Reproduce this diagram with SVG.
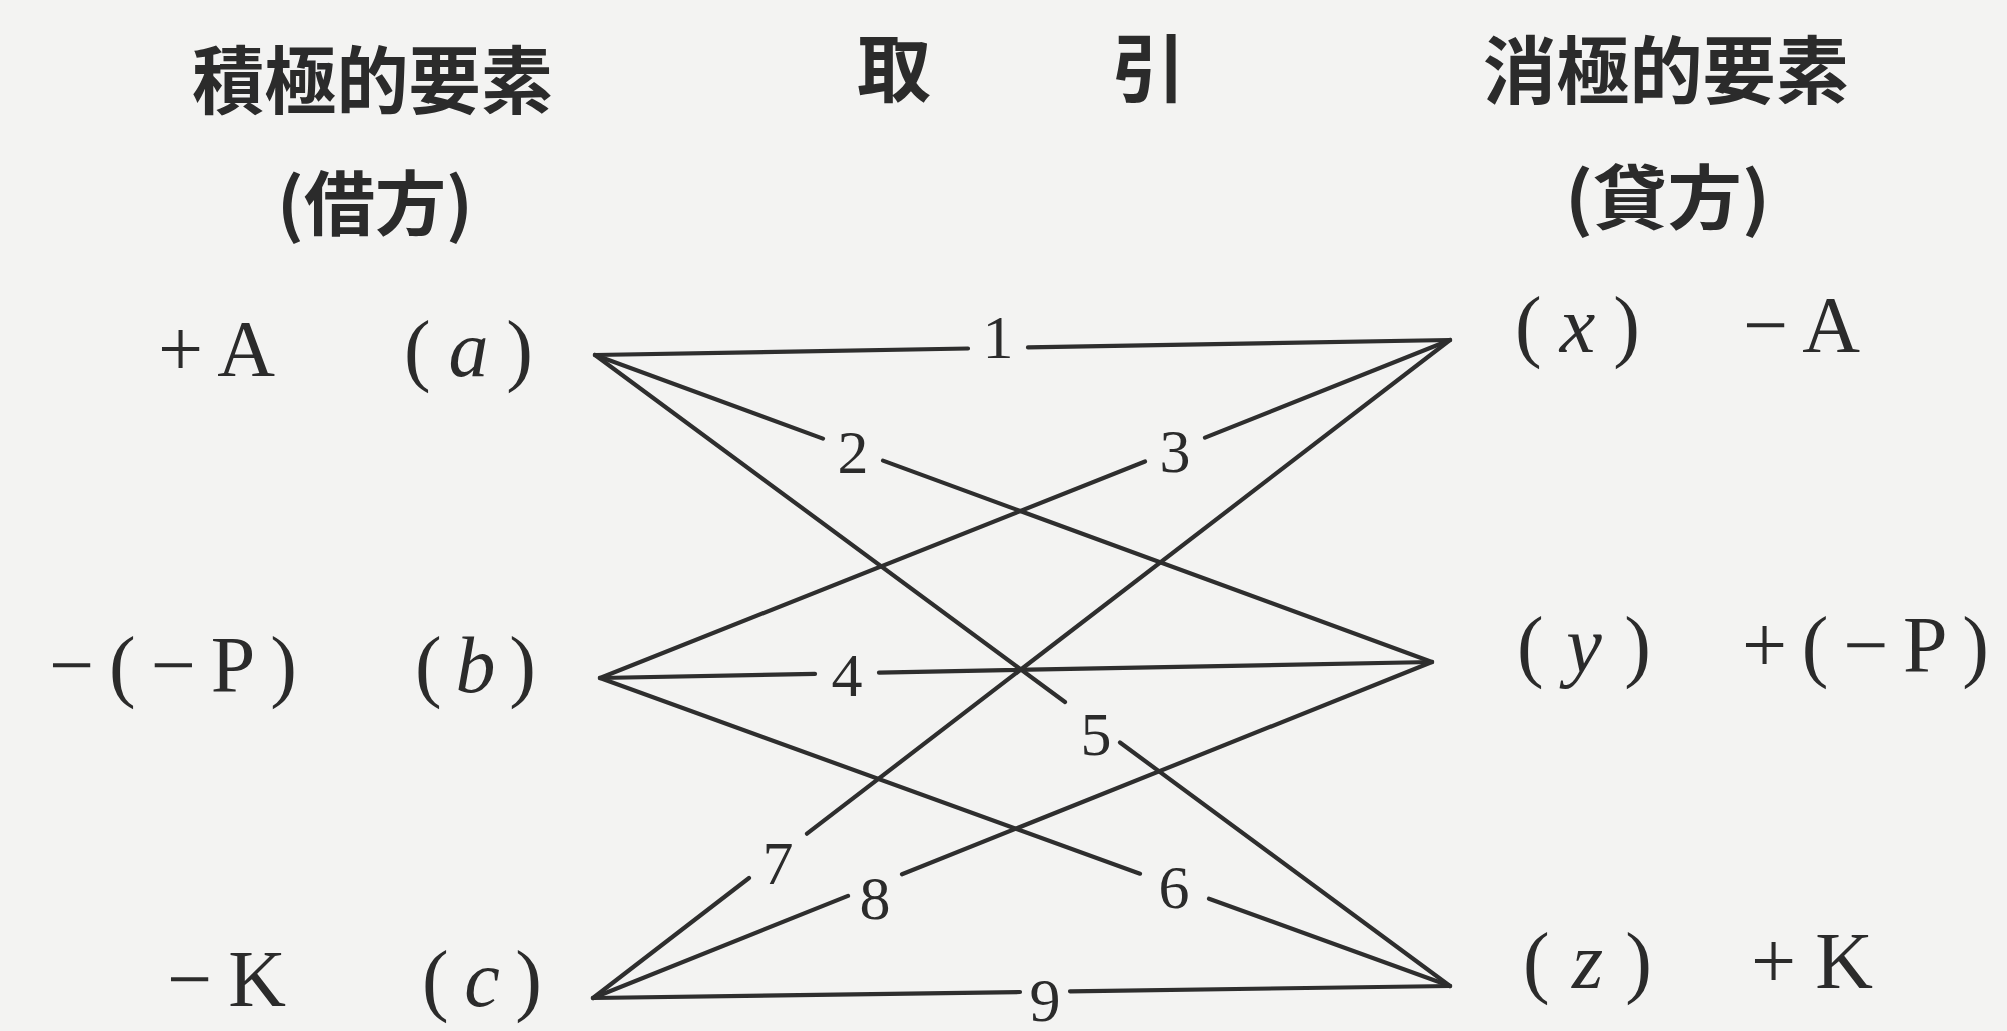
<svg xmlns="http://www.w3.org/2000/svg" width="2007" height="1031" viewBox="0 0 2007 1031">
<style>
.bg{fill:#f3f3f2}
.ttl{font-family:"Noto Sans CJK JP","Noto Sans CJK SC",sans-serif;font-weight:700;fill:#2b2b2b}
.row{font-family:"Liberation Serif",serif;font-size:80px;fill:#2b2b2b}
.var{font-family:"Liberation Serif",serif;font-size:80px;fill:#2b2b2b}
.var tspan.i{font-style:italic}
.num{font-family:"Liberation Serif",serif;font-size:62px;fill:#2b2b2b;text-anchor:middle}
.ln{stroke:#2e2e2e;stroke-width:4.2;stroke-linecap:round;fill:none}
</style>
<rect class="bg" x="0" y="0" width="2007" height="1031"/>

<g id="headers">
  <text id="h-left" class="ttl" x="192" y="108" font-size="74" textLength="361" lengthAdjust="spacingAndGlyphs">積極的要素</text>
  <text id="h-left-sub" class="ttl" x="277" y="230" font-size="70" textLength="196" lengthAdjust="spacingAndGlyphs">(借方)</text>
  <text id="h-mid" class="ttl" y="96" font-size="74"><tspan x="857">取</tspan><tspan x="1112">引</tspan></text>
  <text id="h-right" class="ttl" x="1483" y="98" font-size="74" textLength="366" lengthAdjust="spacingAndGlyphs">消極的要素</text>
  <text id="h-right-sub" class="ttl" x="1565" y="224" font-size="70" textLength="205" lengthAdjust="spacingAndGlyphs">(貸方)</text>
</g>

<g id="node-a">
  <text class="row" x="158" y="376" textLength="117" lengthAdjust="spacing">+A</text>
  <text class="var" x="404" y="376" textLength="129" lengthAdjust="spacing">(<tspan class="i">a</tspan>)</text>
</g>
<g id="node-b">
  <text class="row" x="49" y="692" textLength="248" lengthAdjust="spacing">−(−P)</text>
  <text class="var" x="415" y="692" textLength="121" lengthAdjust="spacing">(<tspan class="i">b</tspan>)</text>
</g>
<g id="node-c">
  <text class="row" x="167" y="1006" textLength="119" lengthAdjust="spacing">−K</text>
  <text class="var" x="422" y="1006" textLength="120" lengthAdjust="spacing">(<tspan class="i">c</tspan>)</text>
</g>
<g id="node-x">
  <text class="var" x="1515" y="352" textLength="125" lengthAdjust="spacing">(<tspan class="i">x</tspan>)</text>
  <text class="row" x="1743" y="352" textLength="117" lengthAdjust="spacing">−A</text>
</g>
<g id="node-y">
  <text class="var" x="1517" y="672" textLength="134" lengthAdjust="spacing">(<tspan class="i">y</tspan>)</text>
  <text class="row" x="1742" y="672" textLength="247" lengthAdjust="spacing">+(−P)</text>
</g>
<g id="node-z">
  <text class="var" x="1523" y="988" textLength="129" lengthAdjust="spacing">(<tspan class="i">z</tspan>)</text>
  <text class="row" x="1751" y="988" textLength="122" lengthAdjust="spacing">+K</text>
</g>

<g id="connectors">
  <g id="e1">
    <path class="ln" d="M595,355 L968,348.5 M1028,347.4 L1450,340"/>
    <text class="num" x="998" y="358">1</text>
  </g>
  <g id="e2">
    <path class="ln" d="M595,355 L823,438.6 M883,460.6 L1432,662"/>
    <text class="num" x="853" y="473">2</text>
  </g>
  <g id="e3">
    <path class="ln" d="M600,678 L1145,461.5 M1205,437.6 L1450,340"/>
    <text class="num" x="1175" y="472">3</text>
  </g>
  <g id="e4">
    <path class="ln" d="M600,678 L815,673.9 M879,672.6 L1432,662"/>
    <text class="num" x="847" y="696">4</text>
  </g>
  <g id="e5">
    <path class="ln" d="M595,355 L1065,702 M1120,742.5 L1450,986"/>
    <text class="num" x="1096" y="755">5</text>
  </g>
  <g id="e6">
    <path class="ln" d="M600,678 L1140,873.7 M1209,898.7 L1450,986"/>
    <text class="num" x="1174" y="908">6</text>
  </g>
  <g id="e7">
    <path class="ln" d="M593,998 L749,878 M807,833.7 L1450,340"/>
    <text class="num" x="778" y="884">7</text>
  </g>
  <g id="e8">
    <path class="ln" d="M593,998 L848,895.9 M902,874.3 L1432,662"/>
    <text class="num" x="875" y="919">8</text>
  </g>
  <g id="e9">
    <path class="ln" d="M593,998 L1020,992 M1070,991.3 L1450,986"/>
    <text class="num" x="1045" y="1021">9</text>
  </g>
</g>
</svg>
